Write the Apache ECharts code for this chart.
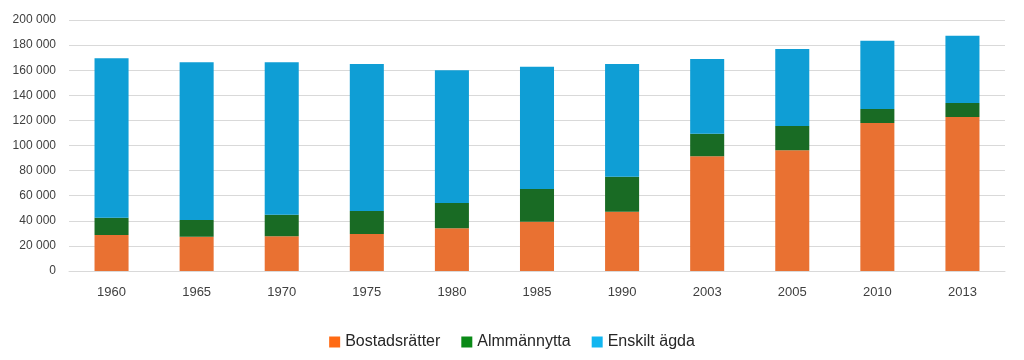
<!DOCTYPE html>
<html><head><meta charset="utf-8">
<script src="https://cdn.jsdelivr.net/npm/echarts@6/dist/echarts.min.js"></script>
<style>html,body{margin:0;padding:0;background:#fff}#c{width:1024px;height:360px}</style>
</head><body><div id="c"></div>
<script>
const years = ['1960','1965','1970','1975','1980','1985','1990','2003','2005','2010','2013'];
const bostadsratter = [28700, 27300, 27600, 29500, 34000, 39300, 47300, 91400, 96200, 117900, 122700];
const allmannytta   = [13800, 13300, 17300, 18300, 20200, 26000, 27800, 18000, 19300, 11200, 11200];
const enskiltAgda   = [127000, 125700, 121400, 117100, 105700, 97500, 89800, 59500, 61400, 54400, 53600];
const seriesNames = ['Bostadsrätter', 'Almmännytta', 'Enskilt ägda'];

const chart = echarts.init(document.getElementById('c'), null, {renderer: 'canvas'});
const font = '"Liberation Sans", "Noto Sans", sans-serif';
const fmt = v => String(v).replace(/\B(?=(\d{3})+(?!\d))/g, ' ');
function bar(name, data, color) {
  return { name, type: 'bar', stack: 'total', data, barWidth: '40%', itemStyle: { color } };
}
chart.setOption({
  animation: false,
  textStyle: { fontFamily: font },
  grid: { left: 69, right: 19, top: 20, bottom: 89 },
  legend: {
    bottom: 5, left: 'center', itemWidth: 11, itemHeight: 11, itemGap: 21,
    icon: 'rect',
    textStyle: { fontSize: 16, color: '#262626', fontFamily: font },
    data: [
      { name: seriesNames[0], itemStyle: { color: '#FF6A13' } },
      { name: seriesNames[1], itemStyle: { color: '#0A8A17' } },
      { name: seriesNames[2], itemStyle: { color: '#12B6F0' } }
    ]
  },
  xAxis: {
    type: 'category', data: years,
    axisLine: { lineStyle: { color: '#d9d9d9', width: 1 } },
    axisTick: { show: false },
    axisLabel: { fontSize: 13, color: '#404040', margin: 15 }
  },
  yAxis: {
    type: 'value', min: 0, max: 200000, interval: 20000,
    axisLine: { show: false }, axisTick: { show: false },
    splitLine: { lineStyle: { color: '#d9d9d9', width: 1 } },
    axisLabel: { fontSize: 12, color: '#404040', margin: 13, formatter: fmt }
  },
  series: [
    bar(seriesNames[0], bostadsratter, '#E97132'),
    bar(seriesNames[1], allmannytta, '#196B24'),
    bar(seriesNames[2], enskiltAgda, '#0F9ED5')
  ]
});
</script></body></html>
